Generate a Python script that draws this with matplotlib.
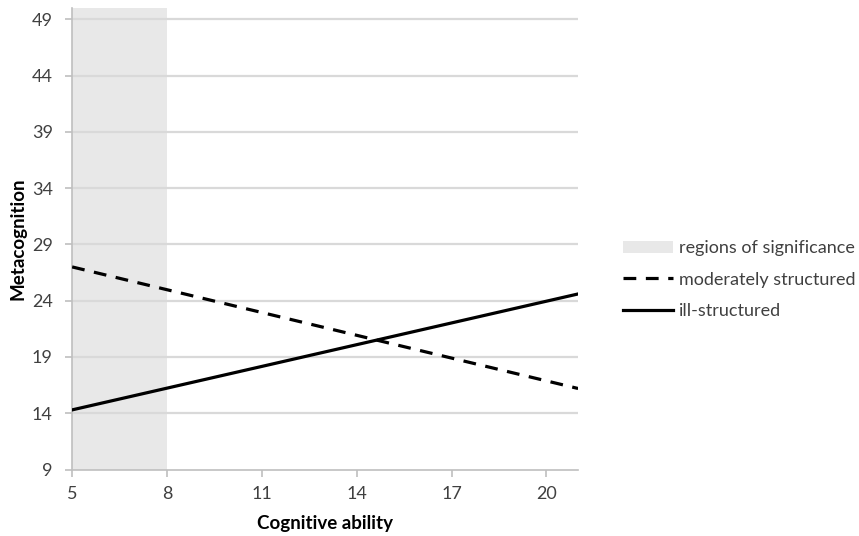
import matplotlib
matplotlib.use("Agg")
import matplotlib.pyplot as plt
from matplotlib.patches import Patch
from matplotlib.lines import Line2D

plt.rcParams['font.family'] = ['Lato', 'DejaVu Sans']

# Data
x_vals = [5, 21]
ill_structured = [14.3, 24.6]
moderately_structured = [27.0, 16.2]
sig_region = (5, 8)
x_ticks = [5, 8, 11, 14, 17, 20]
y_ticks = [9, 14, 19, 24, 29, 34, 39, 44, 49]

fig = plt.figure(figsize=(8.59, 5.36), dpi=100)
ax = fig.add_axes([0.084, 0.124, 0.589, 0.861])

ax.axvspan(sig_region[0], sig_region[1], color='#e8e8e8', zorder=0, lw=0)
for yt in y_ticks[1:]:
    ax.axhline(yt, color='#d9d9d9', lw=1.6, zorder=1)

ax.plot(x_vals, moderately_structured, color='black', lw=2.3,
        dashes=(4, 3), zorder=3)
ax.plot(x_vals, ill_structured, color='black', lw=2.3, zorder=3)

ax.set_xlim(5, 21)
ax.set_ylim(9, 50)
ax.set_xticks(x_ticks)
ax.set_yticks(y_ticks)
ax.tick_params(axis='both', colors='#bfbfbf', labelcolor='#404040',
               labelsize=13, length=5, width=1.2)
ax.tick_params(axis='x', pad=7)
ax.tick_params(axis='y', pad=9)

for s in ['top', 'right']:
    ax.spines[s].set_visible(False)
for s in ['left', 'bottom']:
    ax.spines[s].set_color('#bfbfbf')
    ax.spines[s].set_linewidth(1.2)

ax.set_xlabel('Cognitive ability', fontsize=13.5, fontweight='bold', labelpad=9)
ax.set_ylabel('Metacognition', fontsize=13.5, fontweight='bold', labelpad=4)

handles = [
    Patch(facecolor='#e8e8e8', edgecolor='none', label='regions of significance'),
    Line2D([0], [0], color='black', lw=2.3, dashes=(4, 3), label='moderately structured'),
    Line2D([0], [0], color='black', lw=2.3, label='ill-structured'),
]
leg = fig.legend(handles=handles, loc='center left', bbox_to_anchor=(0.725, 0.478),
                 frameon=False, fontsize=13, handlelength=2.8, handletextpad=0.3,
                 labelspacing=0.85, borderpad=0, borderaxespad=0,
                 labelcolor='#404040')

fig.savefig('out.png', dpi=100)
